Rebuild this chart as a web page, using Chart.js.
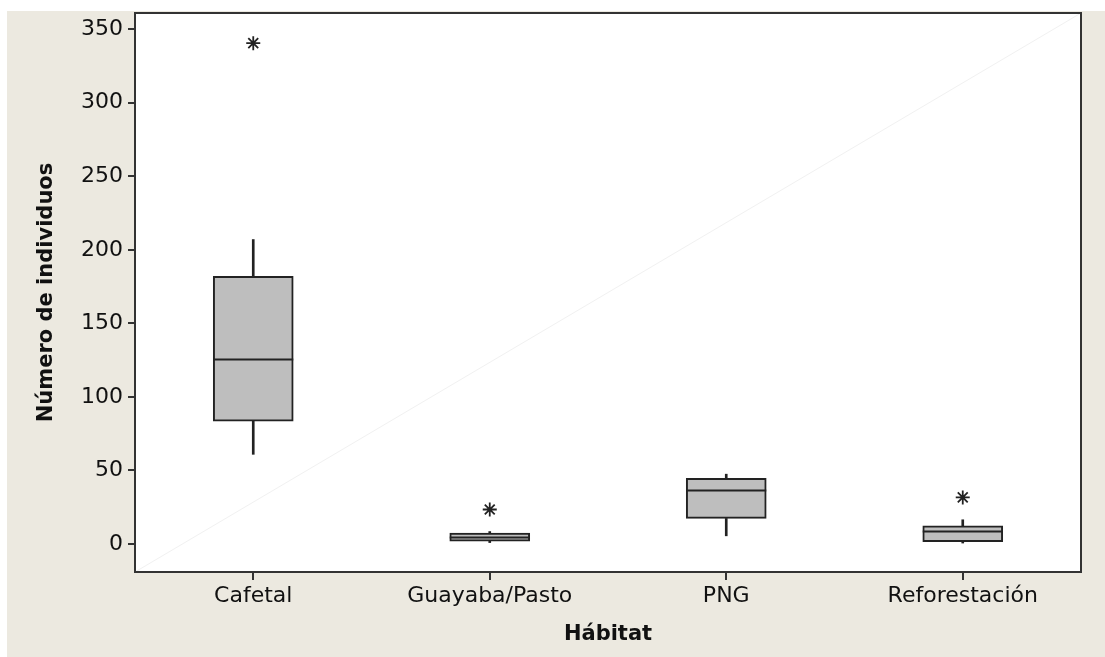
<!DOCTYPE html>
<html>
<head>
<meta charset="utf-8">
<script src="https://cdn.jsdelivr.net/npm/chart.js@4"></script>
<style>
  body { margin: 0; background: #ffffff; }
</style>
</head>
<body>
<canvas id="myChart" width="1105" height="657"></canvas>
<script>
// Data
var habitats = ["Cafetal", "Guayaba/Pasto", "PNG", "Reforestación"];
var whiskerLow = [61, 1, 5.6, 0];
var q1Values = [83.5, 2, 17.4, 1.6];
var medianValues = [126, 5, 36.6, 8.6];
var q3Values = [182, 7.5, 44.6, 12.4];
var whiskerHigh = [207, 8.5, 47.5, 16.5];
var outliers = [340.5, 23.5, null, 31.7];
var yTicks = [0, 50, 100, 150, 200, 250, 300, 350];

// floating bars for boxes and whiskers
var boxData = habitats.map(function (h, i) { return [q1Values[i], q3Values[i]]; });
var lowData = habitats.map(function (h, i) { return [whiskerLow[i], q1Values[i]]; });
var highData = habitats.map(function (h, i) { return [q3Values[i], whiskerHigh[i]]; });

var beige = "#ece9e0";
var ink = "#222222";

// background, faint diagonal, frame and medians
var boxPlugin = {
  id: "boxPlugin",
  beforeDraw: function (chart) {
    var ctx = chart.ctx;
    ctx.save();
    ctx.fillStyle = "#ffffff";
    ctx.fillRect(0, 0, chart.width, chart.height);
    ctx.fillStyle = beige;
    ctx.fillRect(7, 11, chart.width - 7, chart.height - 11);
    var a = chart.chartArea;
    ctx.fillStyle = "#ffffff";
    ctx.fillRect(a.left, a.top, a.right - a.left, a.bottom - a.top);
    ctx.strokeStyle = "#f1f1f1";
    ctx.lineWidth = 1;
    ctx.beginPath();
    ctx.moveTo(a.left, a.bottom);
    ctx.lineTo(a.right, a.top);
    ctx.stroke();
    ctx.restore();
  },
  afterDatasetsDraw: function (chart) {
    var ctx = chart.ctx;
    var xs = chart.scales.x;
    var ys = chart.scales.y;
    ctx.save();
    ctx.strokeStyle = ink;
    ctx.lineWidth = 2;
    medianValues.forEach(function (m, i) {
      var x = xs.getPixelForValue(i);
      var y = Math.round(ys.getPixelForValue(m)) + 0.5;
      ctx.beginPath();
      ctx.moveTo(x - 40, y);
      ctx.lineTo(x + 40, y);
      ctx.stroke();
    });
    ctx.restore();
  },
  afterDraw: function (chart) {
    var ctx = chart.ctx;
    var a = chart.chartArea;
    ctx.save();
    ctx.strokeStyle = "#333333";
    ctx.lineWidth = 2;
    ctx.strokeRect(a.left, a.top, a.right - a.left, a.bottom - a.top);
    ctx.restore();
  }
};

new Chart("myChart", {
  type: "bar",
  data: {
    labels: habitats,
    datasets: [{
      type: "line",
      data: outliers,
      showLine: false,
      pointStyle: "star",
      pointRadius: 7,
      pointBorderWidth: 1.8,
      borderColor: ink,
      backgroundColor: ink,
      order: 0
    }, {
      data: boxData,
      backgroundColor: "#bebebe",
      borderColor: ink,
      borderWidth: 2,
      borderSkipped: false,
      barThickness: 80,
      grouped: false,
      order: 1
    }, {
      data: lowData,
      backgroundColor: ink,
      barThickness: 2,
      grouped: false,
      order: 2
    }, {
      data: highData,
      backgroundColor: ink,
      barThickness: 2,
      grouped: false,
      order: 2
    }]
  },
  options: {
    responsive: false,
    animation: false,
    layout: { padding: { top: 13, right: 24, left: 0, bottom: 0 } },
    plugins: {
      legend: { display: false },
      tooltip: { enabled: false }
    },
    scales: {
      x: {
        offset: true,
        grid: { offset: false, drawOnChartArea: false, drawTicks: true, tickLength: 8, color: "#333333", lineWidth: 2 },
        border: { display: false },
        ticks: { color: "#111111", padding: 3, font: { family: "DejaVu Sans", size: 22 } },
        title: {
          display: true,
          text: "Hábitat",
          color: "#111111",
          padding: { top: 0, bottom: 10 },
          font: { family: "DejaVu Sans", size: 21, weight: "bold" }
        },
        afterFit: function (scale) {
          scale.height = 85;
          scale.paddingLeft = 0;
          scale.paddingRight = 0;
        }
      },
      y: {
        min: -19,
        max: 361,
        afterBuildTicks: function (scale) {
          scale.ticks = yTicks.map(function (v) { return { value: v }; });
        },
        grid: { drawOnChartArea: false, drawTicks: true, tickLength: 7, color: "#333333", lineWidth: 2 },
        border: { display: false },
        ticks: { color: "#111111", padding: 5, font: { family: "DejaVu Sans", size: 22 } },
        title: {
          display: true,
          text: "Número de individuos",
          color: "#111111",
          padding: { top: 34, bottom: 0 },
          font: { family: "DejaVu Sans", size: 21, weight: "bold" }
        },
        afterFit: function (scale) {
          scale.width = 135;
          scale.paddingTop = 0;
          scale.paddingBottom = 0;
        }
      }
    }
  },
  plugins: [boxPlugin]
});
</script>
</body>
</html>
